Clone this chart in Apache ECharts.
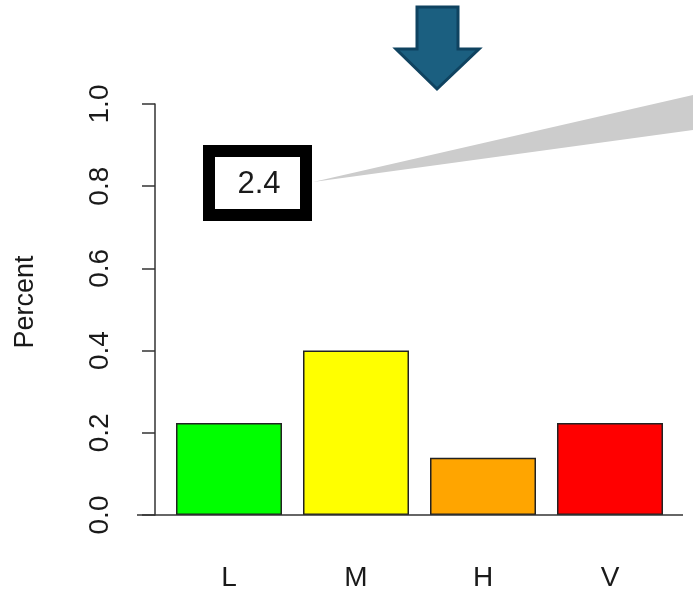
<!DOCTYPE html>
<html>
<head>
<meta charset="utf-8">
<script src="https://cdn.jsdelivr.net/npm/echarts@6/dist/echarts.min.js"></script>
<style>
  html, body { margin: 0; padding: 0; background: #ffffff; }
  #chart { width: 693px; height: 592px; }
</style>
</head>
<body>
<div id="chart"></div>
<script>
// ---- data ----
var categories = ['L', 'M', 'H', 'V'];
var percentValues = [0.224, 0.40, 0.139, 0.224];
var barColors = ['#00ff00', '#ffff00', '#ffa500', '#ff0000'];
var yTickMin = 0, yTickMax = 1.0, yTickStep = 0.2;
var calloutText = '2.4';
var yAxisTitle = 'Percent';

var chart = echarts.init(document.getElementById('chart'), null, { renderer: 'canvas' });
var FONT = '"Liberation Sans", Arial, sans-serif';

var option = {
  animation: false,
  backgroundColor: '#ffffff',
  grid: { left: 165.5, right: 19.5, top: 104, bottom: 77, containLabel: false, outerBoundsMode: 'none' },
  xAxis: {
    type: 'category',
    data: categories,
    boundaryGap: true,
    axisLine: { show: false },
    axisTick: { show: false },
    axisLabel: { fontSize: 28, fontFamily: FONT, color: '#1a1a1a', margin: 49 }
  },
  yAxis: {
    type: 'value',
    min: yTickMin, max: yTickMax, interval: yTickStep,
    offset: 10.5,
    name: yAxisTitle,
    nameLocation: 'middle',
    nameRotate: 90,
    nameGap: 116,
    nameTextStyle: { fontSize: 27, fontFamily: FONT, color: '#1a1a1a', padding: [0, 0, 0, 15] },
    axisLine: { show: true, lineStyle: { color: '#333', width: 1.5 } },
    axisTick: { show: true, length: 13, lineStyle: { color: '#333', width: 1.5 } },
    splitLine: { show: false },
    axisLabel: {
      rotate: 90, fontSize: 28, fontFamily: FONT, color: '#1a1a1a', margin: 41,
      formatter: function (v) { return v.toFixed(1); }
    }
  },
  series: [{
    type: 'bar',
    barWidth: 106,
    data: percentValues.map(function (v, i) {
      return { value: v, itemStyle: { color: barColors[i], borderColor: '#222', borderWidth: 1.5 } };
    })
  }]
};
chart.setOption(option);

// baseline from the value-axis scale
var y0 = chart.convertToPixel({ yAxisIndex: 0 }, 0);
chart.setOption({
  graphic: [
    { type: 'line', shape: { x1: 137, y1: y0, x2: 683, y2: y0 }, style: { stroke: '#333', lineWidth: 1.5 }, z: 10 },
    { type: 'polygon', shape: { points: [[313, 182], [693, 95], [693, 130]] }, style: { fill: '#cccccc' }, z: 10 },
    { type: 'rect', shape: { x: 209, y: 151, width: 97, height: 64 }, style: { fill: '#ffffff', stroke: '#000000', lineWidth: 12 }, z: 11 },
    { type: 'text', x: 259, y: 184, style: { text: calloutText, fontSize: 31, fontFamily: FONT, fill: '#1a1a1a', align: 'center', verticalAlign: 'middle' }, z: 12 },
    { type: 'polygon', shape: { points: [[417, 7], [458, 7], [458, 49], [479, 49], [437, 89], [396, 49], [417, 49]] },
      style: { fill: '#1b5f80', stroke: '#0f4360', lineWidth: 3, lineJoin: 'miter' }, z: 12 }
  ]
});
</script>
</body>
</html>
